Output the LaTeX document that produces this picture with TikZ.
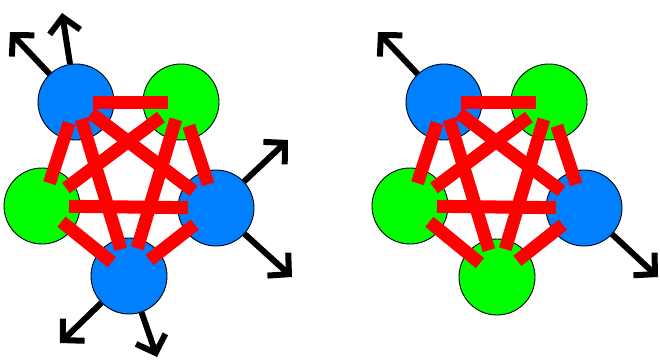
\documentclass[tikz,border=0pt]{standalone}
\usetikzlibrary{arrows.meta}
\definecolor{ballblue}{RGB}{0,128,255}
\definecolor{ballgreen}{RGB}{0,255,0}
\definecolor{edgered}{RGB}{255,0,0}
\tikzset{
  ball/.style={circle, draw=black, line width=0.9pt, minimum size=76pt, inner sep=0pt},
  bb/.style={ball, fill=ballblue},
  gb/.style={ball, fill=ballgreen},
  edge/.style={draw=edgered, line width=13pt, line cap=butt},
  spin/.style={draw=black, line width=6pt, -{Straight Barb[length=15pt 0,width=31pt 0]}}
}
\newcommand\rededges[1]{%
  \foreach \a/\b/\s/\e in {tl/tr/17/13, l/r/27/28, tl/l/22/24, tr/r/25/25, l/b/25/22,
                           r/b/27/26, tl/b/18/28, tr/b/18/29, tl/r/19/28, tr/l/25/30}
    \draw[edge, shorten <=\s pt, shorten >=\e pt] (#1\a.center) -- (#1\b.center);%
}
\begin{document}
\begin{tikzpicture}[x=1pt, y=-1pt]
  \useasboundingbox (0,0) rectangle (660,360);
  % left cluster
  \node[bb] (Atl) at (76,102) {};
  \node[gb] (Atr) at (181,102) {};
  \node[gb] (Al)  at (42,206) {};
  \node[bb] (Ar)  at (216,208) {};
  \node[bb] (Ab)  at (129,276) {};
  \rededges{A}
  \coordinate (p1) at (10,32);
  \coordinate (p2) at (62,13);
  \coordinate (p3) at (288,140);
  \coordinate (p4) at (292,277);
  \coordinate (p5) at (60,343);
  \coordinate (p6) at (157,357);
  \draw[spin] (Atl) -- (p1);
  \draw[spin] (Atl) -- (p2);
  \draw[spin] (Ar) -- (p3);
  \draw[spin] (Ar) -- (p4);
  \draw[spin] (Ab) -- (p5);
  \draw[spin] (Ab) -- (p6);
  % right cluster
  \node[bb] (Btl) at (444,102) {};
  \node[gb] (Btr) at (549,102) {};
  \node[gb] (Bl)  at (410,206) {};
  \node[bb] (Br)  at (584,208) {};
  \node[gb] (Bb)  at (497,277) {};
  \rededges{B}
  \coordinate (q1) at (378,32);
  \coordinate (q4) at (658,277);
  \draw[spin] (Btl) -- (q1);
  \draw[spin] (Br) -- (q4);
\end{tikzpicture}
\end{document}
